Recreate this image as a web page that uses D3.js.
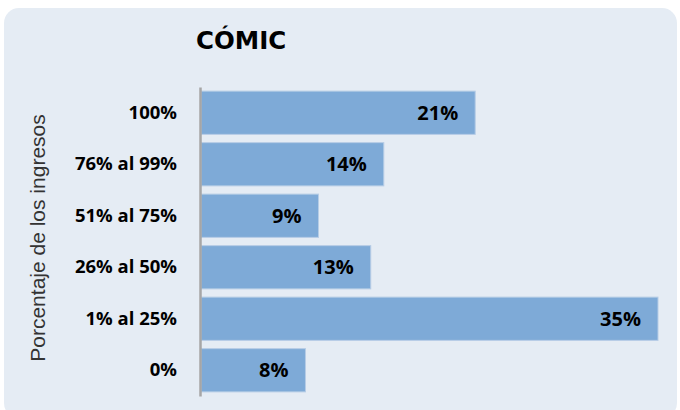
<!DOCTYPE html>
<html>
<head>
<meta charset="utf-8">
<script src="https://cdn.jsdelivr.net/npm/d3@7"></script>
<style>
  html, body { margin: 0; padding: 0; background: #ffffff; }
  svg { display: block; }
</style>
</head>
<body>
<div id="chart"></div>
<script>
// ---- Data ----
const categories = ["100%", "76% al 99%", "51% al 75%", "26% al 50%", "1% al 25%", "0%"];
const shares = [21, 14, 9, 13, 35, 8];
const valueLabels = ["21%", "14%", "9%", "13%", "35%", "8%"];
const title = "CÓMIC";
const axisTitle = "Porcentaje de los ingresos";

const W = 680, H = 410;
const svg = d3.select("#chart").append("svg")
  .attr("width", W)
  .attr("height", H);

// panel background
svg.append("rect")
  .attr("x", 4).attr("y", 8)
  .attr("width", 673).attr("height", 410)
  .attr("rx", 15)
  .attr("fill", "#e5ecf4");

const rows = categories.map((c, i) => ({ cat: c, v: shares[i], label: valueLabels[i] }));

// ---- Scales ----
const x0 = 201;
const x = d3.scaleLinear().domain([0, 35]).range([x0, 658]);
const y = d3.scaleBand()
  .domain(categories)
  .range([87, 396])
  .paddingInner(0.16)
  .paddingOuter(0.08);

// ---- Bars ----
svg.selectAll("rect.bar")
  .data(rows)
  .join("rect")
  .attr("class", "bar")
  .attr("x", x(0))
  .attr("y", d => y(d.cat))
  .attr("width", d => x(d.v) - x(0))
  .attr("height", y.bandwidth())
  .attr("fill", "#7eaad7")
  .attr("stroke", "#b7cde6")
  .attr("stroke-width", 1);

// ---- Value labels ----
svg.selectAll("text.val")
  .data(rows)
  .join("text")
  .attr("class", "val")
  .attr("x", d => x(d.v) - 17)
  .attr("y", d => y(d.cat) + y.bandwidth() / 2)
  .attr("dy", "0.36em")
  .attr("text-anchor", "end")
  .attr("font-family", "'Open Sans', sans-serif")
  .attr("font-weight", "bold")
  .attr("font-size", 20)
  .attr("fill", "#000")
  .text(d => d.label);

// ---- Category axis ----
const axis = svg.append("g")
  .attr("transform", `translate(${x0 - 1},0)`)
  .call(d3.axisLeft(y).tickSize(0).tickSizeOuter(0).tickPadding(23));
axis.select(".domain")
  .attr("stroke", "#a6a6a6")
  .attr("stroke-width", 2.5);
axis.selectAll("text")
  .attr("font-family", "'Open Sans', sans-serif")
  .attr("font-weight", "bold")
  .attr("font-size", 18.5)
  .attr("fill", "#000");

// ---- Titles ----
svg.append("text")
  .attr("x", 196).attr("y", 49)
  .attr("font-family", "'DejaVu Sans', sans-serif")
  .attr("font-weight", "bold")
  .attr("font-size", 24.5)
  .attr("fill", "#000")
  .text(title);

svg.append("text")
  .attr("transform", `translate(45,${(113 + 363) / 2}) rotate(-90)`)
  .attr("text-anchor", "middle")
  .attr("font-family", "'Liberation Sans', Arial, sans-serif")
  .attr("font-size", 21)
  .attr("fill", "#333")
  .text(axisTitle);
</script>
</body>
</html>
